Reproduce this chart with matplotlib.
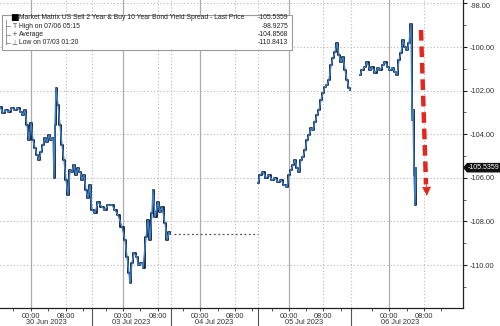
import matplotlib
matplotlib.use('Agg')
import matplotlib.pyplot as plt
from matplotlib.patches import Rectangle, Polygon
from matplotlib.lines import Line2D
import matplotlib.transforms as mtransforms
import numpy as np

plt.rcParams['font.family'] = ['Liberation Sans', 'DejaVu Sans']

# axe compressé : position = numéro de barre (~14 min), heures de marché seulement
bars_30jun = [0, 3, 6, 9, 12, 15, 18, 21, 23, 25, 27, 29, 31, 33, 35, 37, 39, 41, 43, 45,
              47, 49, 51, 53, 54, 55, 56, 58, 60, 62, 64, 66, 68, 70, 72, 74, 76, 78, 80, 82,
              84, 86, 88, 90, 92, 95, 98, 102, 105, 108, 112, 115, 118, 122, 125, 127, 129, 130, 132, 134,
              137, 138, 142, 143, 146, 148, 150, 152, 153, 155, 158, 160, 162, 165, 167, 169, 170]
spread_30jun = [-102.75, -103.03, -102.89, -102.98, -102.80, -102.89, -102.80, -102.98, -103.12, -102.89,
                -103.58, -104.27, -103.49, -104.27, -104.63, -104.95, -105.18, -104.82, -104.50, -104.17,
                -104.36, -104.04, -104.27, -104.17, -106.01, -103.58, -101.88, -102.66, -103.58, -104.50,
                -105.18, -106.10, -106.79, -105.64, -105.73, -105.41, -105.87, -105.55, -105.73, -106.10,
                -105.87, -106.56, -106.93, -106.33, -107.48, -107.61, -107.11, -107.34, -107.48, -107.25,
                -107.25, -107.48, -107.71, -108.26, -108.85, -109.63, -110.37, -110.84, -109.91, -109.45,
                -109.63, -110.00, -109.91, -110.14, -108.72, -107.94, -108.85, -107.61, -106.56, -107.80,
                -107.11, -107.57, -107.34, -108.07, -108.85, -108.49, -108.58]

bars_05jul = [258, 260, 263, 266, 269, 272, 275, 278, 281, 284, 287, 289, 291, 293, 295, 297, 299, 301,
              303, 305, 307, 309, 311, 313, 315, 317, 319, 321, 323, 325, 327, 329, 331, 333, 335, 337,
              339, 341, 343, 345, 347, 349, 350]
spread_05jul = [-106.24, -105.87, -105.73, -106.01, -105.87, -106.10, -106.01, -106.19, -106.10, -106.33,
                -106.42, -105.87, -105.64, -105.41, -105.18, -105.55, -105.73, -105.18, -105.05, -104.72,
                -104.27, -104.04, -103.72, -103.81, -103.44, -103.12, -102.89, -102.43, -102.11, -101.83,
                -101.74, -101.51, -100.83, -100.50, -100.23, -99.82, -100.37, -100.69, -100.46, -101.06,
                -101.51, -101.88, -101.97]

bars_06jul = [360, 362, 365, 367, 370, 372, 375, 378, 380, 383, 385, 388, 390, 393, 395, 397, 399, 401,
              403, 405, 407, 409, 411, 412, 413, 414, 415, 416]
spread_06jul = [-101.28, -101.06, -100.92, -100.69, -101.06, -100.92, -101.19, -100.96, -101.06, -100.83,
                -100.69, -100.92, -101.06, -100.96, -101.15, -101.28, -100.60, -100.28, -99.68, -100.00,
                -100.14, -99.82, -98.93, -103.35, -102.89, -105.87, -107.25, -105.5359]

legend_labels = ['Market Matrix US Sell 2 Year & Buy 10 Year Bond Yield Spread - Last Price',
                 'High on 07/06 05:15', 'Average', 'Low on 07/03 01:20']
legend_values = [-105.5359, -98.9275, -104.8568, -110.8413]

hour_ticks = [30.7, 65.7, 122.7, 157.7, 200.3, 235.3, 288.7, 323.3, 389.3, 424]
hour_labels = ['00:00', '08:00'] * 5
minor_ticks = [13.3, 47.7, 82.7, 105.7, 140, 183, 218.3, 252.3, 271.7, 306, 340.7, 372.3, 406.7, 441.3]
session_breaks = [92.3, 170.7, 258.3, 351]
day_pos = [46, 131, 214, 304, 400]
day_labels = ['30 Jun 2023', '03 Jul 2023', '04 Jul 2023', '05 Jul 2023', '06 Jul 2023']

W, H = 500, 326
fig = plt.figure(figsize=(5, 3.26), dpi=100)
ax = fig.add_axes([0, 18 / H, 463 / W, 308 / H])

y_top = -100 + 47 / 21.8
y_bot = -100 - 261 / 21.8
ax.set_xlim(0, 463)
ax.set_ylim(y_bot, y_top)

grid_col = '#b8b8b8'
for v in np.arange(-110, -97, 2):
    ax.axhline(v, color=grid_col, lw=0.8, ls=(0, (1, 2)), zorder=0)
for i, x in enumerate(hour_ticks):
    if i % 2 == 0:
        ax.axvline(x, color='#ababab', lw=0.9, zorder=0)
    else:
        ax.axvline(x, color=grid_col, lw=0.8, ls=(0, (1, 2)), zorder=0)
for x in session_breaks:
    ax.axvline(x, color=grid_col, lw=0.8, ls=(0, (1, 2)), zorder=0)

# série
for bx, sv in [(bars_30jun, spread_30jun), (bars_05jul, spread_05jul), (bars_06jul, spread_06jul)]:
    ax.plot(bx, sv, color='#101c30', lw=1.3, drawstyle='steps-mid', zorder=3)
    ax.plot(bx, sv, color='#3f80c8', lw=1.0, zorder=4)

# 04 Jul : niveau maintenu en pointillé
ax.plot([bars_30jun[-1] + 4, bars_05jul[0]], [spread_30jun[-1]] * 2, color='#555555',
        lw=0.9, ls=(0, (1.5, 2)), zorder=2)

# flèche rouge
red = '#e3261f'
ax.plot([421, 426], [-99.22, -106.3], color=red, lw=3.2, ls=(0, (2.4, 1.3)), zorder=5,
        solid_capstyle='butt')
ax.annotate('', xy=(427, -106.95), xytext=(426.2, -106.0),
            arrowprops=dict(arrowstyle='-|>', color=red, lw=0.5, mutation_scale=14), zorder=5)

# axes
for s in ['top', 'left']:
    ax.spines[s].set_visible(False)
ax.spines['right'].set_color('#222222')
ax.spines['bottom'].set_color('#222222')
ax.spines['right'].set_linewidth(0.9)
ax.spines['bottom'].set_linewidth(0.9)

ax.yaxis.tick_right()
ax.set_yticks(np.arange(-110, -97, 2))
ax.set_yticks(np.arange(-111, -97, 1), minor=True)
ax.set_yticklabels(['%.2f' % v for v in np.arange(-110, -97, 2)])
ax.tick_params(axis='y', which='major', length=3, width=0.8, colors='#222222',
               labelsize=5.3, labelcolor='#333333', pad=1.5)
ax.tick_params(axis='y', which='minor', length=2, width=0.6, colors='#444444')
ax.yaxis.get_major_ticks()[-1].label2.set_va('top')

ax.set_xticks(hour_ticks)
ax.set_xticklabels(hour_labels)
ax.set_xticks(minor_ticks, minor=True)
ax.tick_params(axis='x', which='major', length=2.5, width=0.7, colors='#444444',
               labelsize=5.3, labelcolor='#333333', pad=1)
ax.tick_params(axis='x', which='minor', length=2, width=0.6, colors='#444444')

trans = mtransforms.blended_transform_factory(ax.transData, ax.transAxes)
for x in session_breaks:
    ax.plot([x, x], [0, -18 / 308], transform=trans, color='#555555', lw=0.8, clip_on=False)
for x, lab in zip(day_pos, day_labels):
    ax.text(x, -14 / 308, lab, transform=trans, ha='center', va='center', fontsize=5.3,
            color='#333333', clip_on=False)

# dernier prix
ty = ax.transData.transform((0, legend_values[0]))[1]
yf = fig.transFigure.inverted().transform((0, ty))[1]
hb = 4.8 / H
poly = Polygon([(463 / W, yf), (467 / W, yf + hb), (500 / W, yf + hb), (500 / W, yf - hb), (467 / W, yf - hb)],
               closed=True, transform=fig.transFigure, facecolor='#111111', edgecolor='none')
fig.patches.append(poly)
fig.text(484 / W, yf, '%.4f' % legend_values[0], color='white', fontsize=5.0, ha='center', va='center')

# légende
def fx(px):
    return px / W

def fy(py):
    return 1 - py / H

fig.patches.append(Rectangle((fx(2), fy(50)), fx(290), 35 / H, transform=fig.transFigure,
                             facecolor='white', edgecolor='#9a9a9a', lw=0.8, zorder=10))
rows = [17.5, 26, 34.5, 43]
icons = ['\u25a0', 'T', '+', '\u22a5']
for r, lab, val, ic in zip(rows, legend_labels, legend_values, icons):
    fig.text(fx(19), fy(r), lab, fontsize=4.9, color='#222222', va='center', ha='left', zorder=11)
    fig.text(fx(288), fy(r), '%.4f' % val, fontsize=4.9, color='#222222', va='center', ha='right', zorder=11)
    fig.text(fx(14), fy(r), ic, fontsize=5 if ic != '\u25a0' else 6.5, color='#555555' if ic != '\u25a0' else 'black',
             va='center', ha='center', zorder=11, family='DejaVu Sans')
fig.lines.append(Line2D([fx(6), fx(6)], [fy(20), fy(44)], transform=fig.transFigure,
                        color='#888888', lw=0.6, zorder=11))
for r in rows[1:]:
    fig.lines.append(Line2D([fx(6), fx(10)], [fy(r), fy(r)], transform=fig.transFigure,
                            color='#888888', lw=0.6, zorder=11))

fig.savefig('out.png', dpi=100)
